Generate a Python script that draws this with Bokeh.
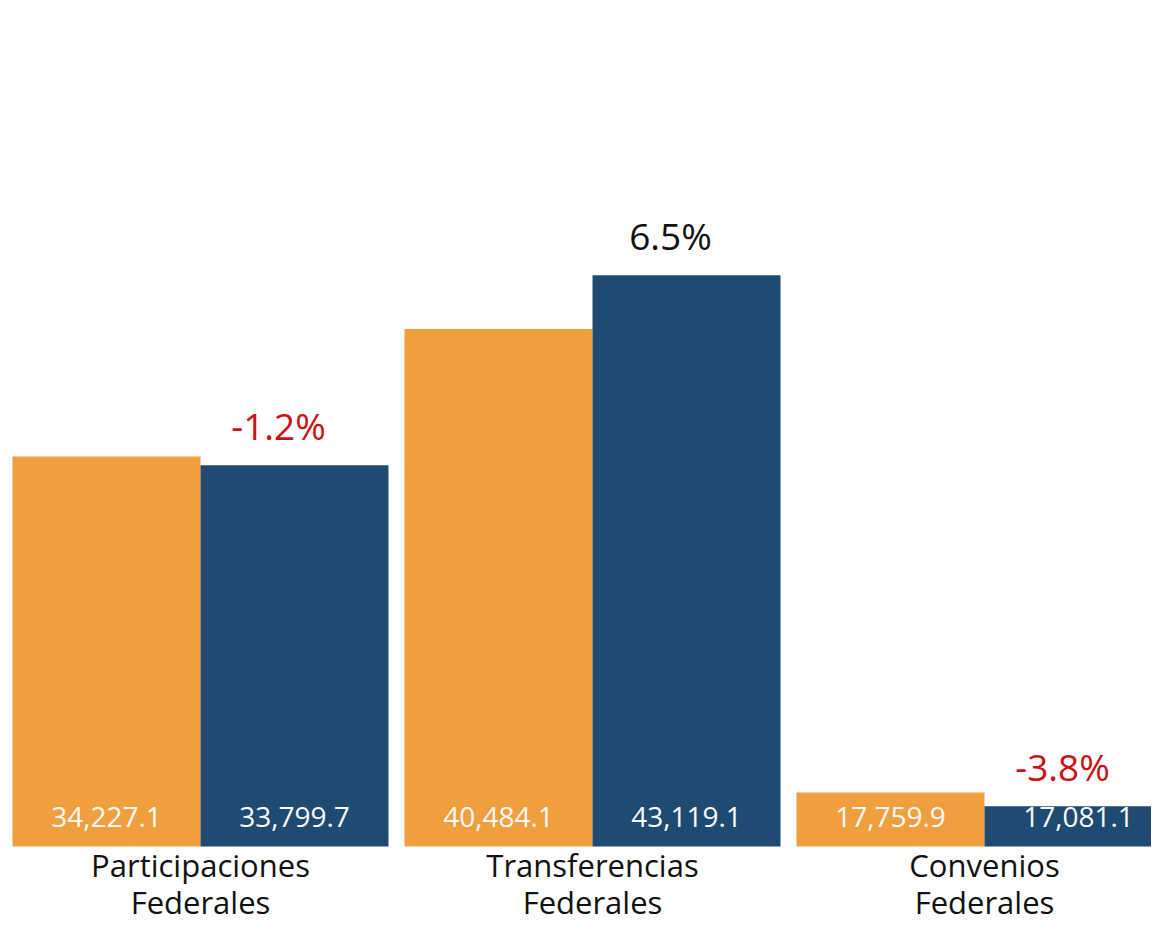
from bokeh.plotting import figure
from bokeh.models import ColumnDataSource, Range1d
from bokeh.transform import dodge
from bokeh.core.properties import value
from bokeh.embed import file_html
from bokeh.resources import INLINE

# ---- data ----
categories = ["Participaciones\nFederales", "Transferencias\nFederales", "Convenios\nFederales"]
serie_anterior = [34227.1, 40484.1, 17759.9]   # orange
serie_actual = [33799.7, 43119.1, 17081.1]     # dark blue
variacion = [-1.2, 6.5, -3.8]                  # % change labels

# ---- style ----
BASE = 15114          # value at which the bars start (axis baseline)
ORANGE = "#F09F3F"
BLUE = "#1F4A72"
RED = "#CC1016"
FONT = value("Open Sans")
BAR_W = 0.4796
DODGE = 0.2398

idx = list(range(len(categories)))
src = ColumnDataSource(dict(
    x=idx,
    cat=categories,
    a=serie_anterior,
    b=serie_actual,
    a_lbl=[f"{v:,.1f}" for v in serie_anterior],
    b_lbl=[f"{v:,.1f}" for v in serie_actual],
    base=[BASE] * len(idx),
    pct=[f"{v:.1f}%" for v in variacion],
    pct_color=[RED if v < 0 else "#111111" for v in variacion],
))

p = figure(width=1151, height=927,
           x_range=Range1d(-0.5102, 2.4260),
           y_range=Range1d(11143, 56585),
           output_backend="svg", toolbar_location=None,
           min_border=0, min_border_left=0, min_border_right=0,
           min_border_top=0, min_border_bottom=0)
p.axis.visible = False
p.grid.visible = False
p.outline_line_color = None
p.background_fill_color = "white"
p.border_fill_color = "white"

xa = dodge("x", -DODGE, range=p.x_range)
xb = dodge("x", DODGE, range=p.x_range)

p.vbar(x=xa, top="a", bottom="base", width=BAR_W, fill_color=ORANGE, line_color=None, source=src)
p.vbar(x=xb, top="b", bottom="base", width=BAR_W, fill_color=BLUE, line_color=None, source=src)

# value labels inside the bars
for xx, col in ((xa, "a_lbl"), (xb, "b_lbl")):
    p.text(x=xx, y="base", text=col, source=src, y_offset=-29,
           text_align="center", text_baseline="middle",
           text_color="#FAFAFA", text_font=FONT, text_font_size="28px")

# percentage change above the blue bars
p.text(x=xb, y="b", text="pct", source=src, x_offset=-16, y_offset=-40,
       text_align="center", text_baseline="alphabetic",
       text_color="pct_color", text_font=FONT, text_font_size="37px")

# category labels below the baseline
p.text(x="x", y="base", text="cat", source=src, y_offset=-2,
       text_align="center", text_baseline="top", text_line_height=0.88,
       text_color="#111111", text_font=FONT, text_font_size="31px")

open("out.html", "w").write(file_html(p, INLINE))
